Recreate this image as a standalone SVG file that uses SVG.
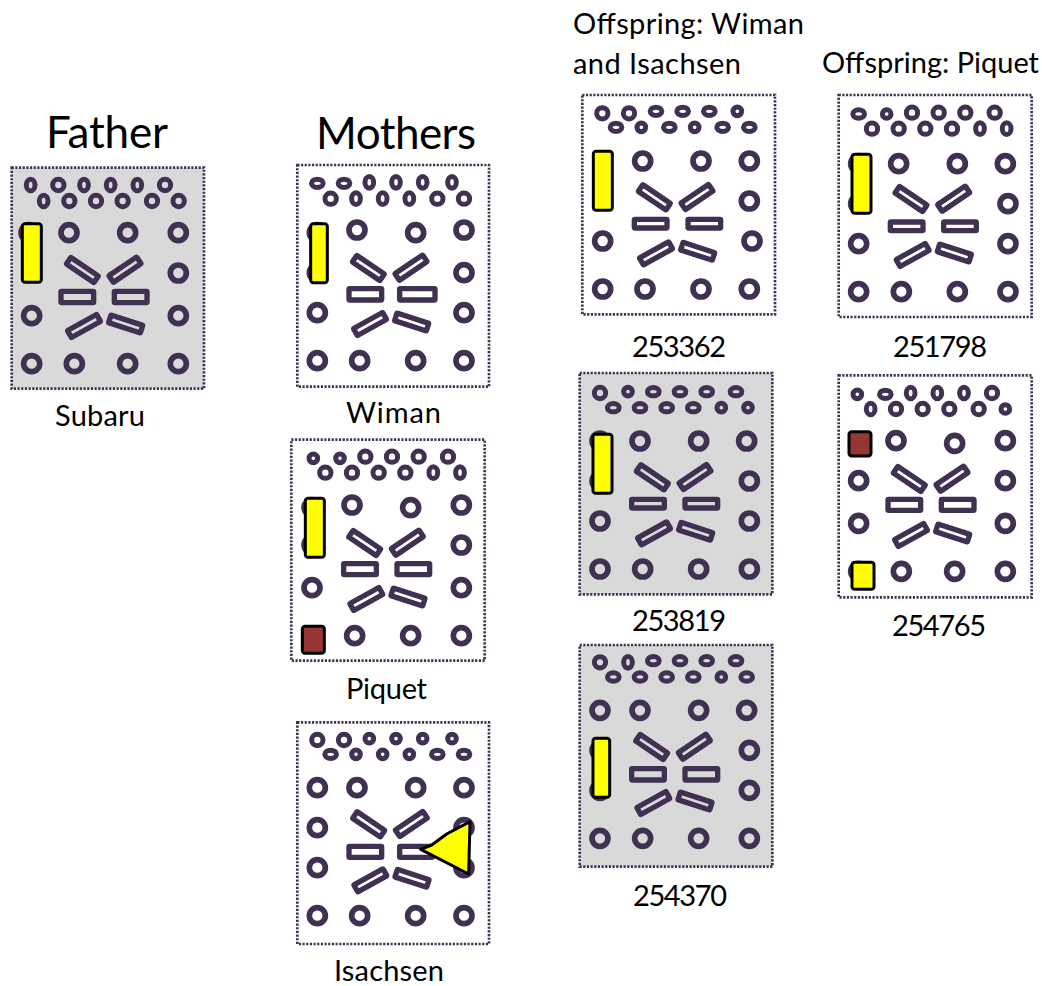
<svg xmlns="http://www.w3.org/2000/svg" xmlns:xlink="http://www.w3.org/1999/xlink" width="1042" height="986" viewBox="0 0 1042 986">
<style>
text{font-family:"Lato","Carlito","Open Sans",sans-serif;fill:#000}
.t{font-size:44px}.l{font-size:29px}
.f{fill:#fff;stroke:#403152;stroke-width:8;stroke-dasharray:6.5 4.5}
.g{fill:#d9d9d9}
.p{fill:none;stroke:#403152}
.h{fill:none;stroke:#403152;stroke-width:16;stroke-linejoin:round}
.y,.m{stroke:#000;stroke-width:9;stroke-linejoin:round}
.y{fill:#ff0}.m{fill:#953735}
</style>
<defs>
<circle id="B" class="p" r="24" stroke-width="17"/>
<circle id="R" class="p" r="17" stroke-width="15"/>
<circle id="r" class="p" r="13" stroke-width="15"/>
<ellipse id="T" class="p" rx="13" ry="17.5" stroke-width="15"/>
<ellipse id="W" class="p" rx="17.5" ry="12.5" stroke-width="15"/>
<g id="D">
<rect class="h" x="-50" y="-12" width="100" height="24" rx="2" transform="translate(247 510) rotate(34)"/>
<rect class="h" x="-50" y="-12" width="100" height="24" rx="2" transform="translate(375 509) rotate(-34)"/>
<rect class="h" x="-50" y="-12" width="100" height="24" rx="2" transform="translate(252 678) rotate(-29)"/>
<rect class="h" x="-50" y="-12" width="100" height="24" rx="2" transform="translate(377 672) rotate(18)"/>
</g>
</defs>
<text class="t" x="46" y="148" textLength="122">Father</text>
<text class="t" x="316" y="149" textLength="160">Mothers</text>
<text class="l" x="573" y="34" textLength="231">Offspring: Wiman</text>
<text class="l" x="573" y="74" textLength="168">and Isachsen</text>
<text class="l" x="822" y="73" textLength="217">Offspring: Piquet</text>

<g id="subaru"><g transform="translate(0 100) scale(.33333)">
<rect class="f g" x="35" y="203" width="577" height="663"/>
<use href="#T" x="92" y="255"/><use href="#R" x="175" y="255"/><use href="#T" x="252" y="255"/><use href="#T" x="332" y="255"/><use href="#T" x="412" y="255"/><use href="#R" x="495" y="255"/>
<use href="#T" x="131" y="303"/><use href="#R" x="208" y="303"/><use href="#R" x="288" y="303"/><use href="#R" x="368" y="303"/><use href="#R" x="456" y="303"/><use href="#R" x="536" y="303"/>
<use href="#B" x="87" y="398"/><use href="#B" x="207" y="398"/><use href="#B" x="383" y="398"/><use href="#B" x="535" y="398"/><use href="#B" x="535" y="519"/><use href="#B" x="95" y="647"/><use href="#B" x="535" y="647"/><use href="#B" x="95" y="791"/><use href="#B" x="223" y="791"/><use href="#B" x="383" y="791"/><use href="#B" x="535" y="791"/>
<use href="#D"/>
<rect class="h" x="183" y="574" width="98" height="34" rx="2"/><rect class="h" x="343" y="574" width="98" height="34" rx="2"/>
<rect class="y" x="67" y="371" width="57" height="176" rx="8"/>
</g><text class="l" x="55" y="426" textLength="90">Subaru</text></g>

<g id="wiman"><g transform="translate(285 150) scale(.33333)">
<rect class="f" x="37" y="45" width="575" height="665"/>
<use href="#W" x="97" y="100"/><use href="#W" x="177" y="100"/><use href="#T" x="253" y="97"/><use href="#T" x="333" y="97"/><use href="#T" x="413" y="97"/><use href="#T" x="501" y="97"/>
<use href="#R" x="137" y="146"/><use href="#T" x="213" y="146"/><use href="#T" x="293" y="146"/><use href="#T" x="373" y="146"/><use href="#R" x="457" y="146"/><use href="#R" x="537" y="146"/>
<use href="#B" x="97" y="248"/><use href="#B" x="97" y="368"/><use href="#B" x="216" y="240"/><use href="#B" x="392" y="248"/><use href="#B" x="537" y="240"/><use href="#B" x="537" y="368"/><use href="#B" x="97" y="488"/><use href="#B" x="537" y="488"/><use href="#B" x="97" y="632"/><use href="#B" x="224" y="632"/><use href="#B" x="392" y="632"/><use href="#B" x="537" y="632"/>
<use href="#D" x="3" y="-156"/>
<rect class="h" x="192" y="416" width="98" height="34" rx="2"/><rect class="h" x="344" y="416" width="106" height="34" rx="2"/>
<rect class="y" x="77" y="221" width="50" height="177" rx="8"/>
</g><text class="l" x="346" y="423" textLength="95">Wiman</text></g>

<g id="piquet"><g transform="translate(285 430) scale(.33333)">
<rect class="f" x="19" y="29" width="580" height="663"/>
<use href="#r" x="85" y="85"/><use href="#r" x="165" y="85"/><use href="#R" x="241" y="80"/><use href="#R" x="321" y="80"/><use href="#R" x="401" y="80"/><use href="#R" x="489" y="80"/>
<use href="#R" x="121" y="128"/><use href="#R" x="201" y="128"/><use href="#R" x="281" y="128"/><use href="#R" x="361" y="128"/><use href="#T" x="445" y="128"/><use href="#T" x="525" y="128"/>
<use href="#B" x="81" y="233"/><use href="#B" x="81" y="345"/><use href="#B" x="201" y="225"/><use href="#B" x="377" y="233"/><use href="#B" x="529" y="225"/><use href="#B" x="529" y="345"/><use href="#B" x="81" y="473"/><use href="#B" x="529" y="473"/><use href="#B" x="209" y="617"/><use href="#B" x="377" y="617"/><use href="#B" x="529" y="617"/>
<use href="#D" x="-8" y="-171"/>
<rect class="h" x="176" y="401" width="98" height="33" rx="2"/><rect class="h" x="336" y="401" width="98" height="33" rx="2"/>
<rect class="y" x="61" y="205" width="57" height="177" rx="8"/>
<rect class="m" x="52" y="589" width="66" height="81" rx="8"/>
</g><text class="l" x="346" y="699" textLength="81">Piquet</text></g>

<g id="isachsen"><g transform="translate(285 710) scale(.33333)">
<rect class="f" x="37" y="37" width="575" height="665"/>
<use href="#R" x="97" y="90"/><use href="#R" x="177" y="90"/><use href="#r" x="253" y="86"/><use href="#r" x="333" y="86"/><use href="#r" x="413" y="86"/><use href="#r" x="501" y="86"/>
<use href="#W" x="137" y="133"/><use href="#r" x="213" y="133"/><use href="#r" x="293" y="133"/><use href="#r" x="373" y="133"/><use href="#W" x="457" y="133"/><use href="#W" x="537" y="133"/>
<use href="#B" x="97" y="233"/><use href="#B" x="216" y="233"/><use href="#B" x="392" y="233"/><use href="#B" x="537" y="233"/><use href="#B" x="97" y="353"/><use href="#B" x="537" y="353"/><use href="#B" x="97" y="473"/><use href="#B" x="537" y="473"/><use href="#B" x="97" y="617"/><use href="#B" x="224" y="617"/><use href="#B" x="392" y="617"/><use href="#B" x="537" y="617"/>
<use href="#D" x="4" y="-167"/>
<rect class="h" x="192" y="409" width="98" height="33" rx="2"/><rect class="h" x="344" y="409" width="98" height="33" rx="2"/>
<polygon class="y" points="407,418 440,405 485,372 555,335 551,492"/>
</g><text class="l" x="334" y="981" textLength="110">Isachsen</text></g>

<g id="o253362"><g transform="translate(570 0) scale(.33333)">
<rect class="f" x="37" y="285" width="578" height="658"/>
<use href="#R" x="97" y="340"/><use href="#R" x="177" y="340"/><use href="#W" x="258" y="334"/><use href="#W" x="338" y="334"/><use href="#W" x="418" y="334"/><use href="#r" x="502" y="334"/>
<use href="#W" x="138" y="382"/><use href="#r" x="214" y="382"/><use href="#W" x="298" y="382"/><use href="#r" x="374" y="382"/><use href="#W" x="458" y="382"/><use href="#W" x="538" y="382"/>
<use href="#B" x="218" y="483"/><use href="#B" x="393" y="483"/><use href="#B" x="538" y="483"/><use href="#B" x="538" y="603"/><use href="#B" x="98" y="723"/><use href="#B" x="546" y="723"/><use href="#B" x="98" y="867"/><use href="#B" x="225" y="867"/><use href="#B" x="393" y="867"/><use href="#B" x="538" y="867"/>
<use href="#D" x="6" y="82"/>
<rect class="h" x="193" y="658" width="98" height="26" rx="2"/><rect class="h" x="354" y="658" width="98" height="26" rx="2"/>
<rect class="y" x="70" y="454" width="57" height="177" rx="8"/>
</g><text class="l" x="632" y="357" textLength="94">253362</text></g>

<g id="o253819"><g transform="translate(570 360) scale(.33333)">
<rect class="f g" x="29" y="39" width="578" height="664"/>
<use href="#R" x="90" y="99"/><use href="#r" x="174" y="95"/><use href="#W" x="250" y="95"/><use href="#W" x="330" y="95"/><use href="#W" x="410" y="95"/><use href="#W" x="498" y="95"/>
<use href="#W" x="130" y="143"/><use href="#W" x="210" y="143"/><use href="#W" x="290" y="143"/><use href="#W" x="370" y="143"/><use href="#r" x="454" y="143"/><use href="#r" x="534" y="143"/>
<use href="#B" x="90" y="243"/><use href="#B" x="90" y="363"/><use href="#B" x="210" y="243"/><use href="#B" x="386" y="243"/><use href="#B" x="530" y="243"/><use href="#B" x="538" y="363"/><use href="#B" x="90" y="483"/><use href="#B" x="538" y="483"/><use href="#B" x="90" y="627"/><use href="#B" x="218" y="627"/><use href="#B" x="386" y="627"/><use href="#B" x="538" y="627"/>
<use href="#D" y="-158"/>
<rect class="h" x="185" y="418" width="98" height="26" rx="2"/><rect class="h" x="345" y="418" width="98" height="26" rx="2"/>
<rect class="y" x="69" y="223" width="57" height="177" rx="8"/>
</g><text class="l" x="632" y="631" textLength="94">253819</text></g>

<g id="o254370"><g transform="translate(570 636) scale(.33333)">
<rect class="f g" x="29" y="27" width="578" height="665"/>
<use href="#R" x="90" y="79"/><use href="#T" x="174" y="79"/><use href="#W" x="250" y="74"/><use href="#W" x="330" y="74"/><use href="#W" x="410" y="74"/><use href="#W" x="498" y="74"/>
<use href="#W" x="130" y="123"/><use href="#W" x="210" y="123"/><use href="#W" x="290" y="123"/><use href="#W" x="370" y="123"/><use href="#r" x="454" y="123"/><use href="#W" x="530" y="123"/>
<use href="#B" x="90" y="343"/><use href="#B" x="90" y="463"/><use href="#B" x="90" y="223"/><use href="#B" x="210" y="223"/><use href="#B" x="386" y="223"/><use href="#B" x="530" y="223"/><use href="#B" x="538" y="343"/><use href="#B" x="538" y="463"/><use href="#B" x="90" y="607"/><use href="#B" x="218" y="607"/><use href="#B" x="386" y="607"/><use href="#B" x="538" y="607"/>
<use href="#D" x="-2" y="-177"/>
<rect class="h" x="185" y="398" width="98" height="34" rx="2"/><rect class="h" x="345" y="398" width="98" height="34" rx="2"/>
<rect class="y" x="69" y="307" width="50" height="177" rx="8"/>
</g><text class="l" x="633" y="906" textLength="94">254370</text></g>

<g id="o251798"><g transform="translate(815 40) scale(.33333)">
<rect class="f" x="71" y="165" width="579" height="666"/>
<use href="#W" x="131" y="222"/><use href="#r" x="215" y="222"/><use href="#R" x="291" y="218"/><use href="#R" x="371" y="218"/><use href="#R" x="451" y="218"/><use href="#R" x="539" y="218"/>
<use href="#R" x="171" y="266"/><use href="#R" x="251" y="266"/><use href="#R" x="331" y="266"/><use href="#R" x="411" y="266"/><use href="#T" x="495" y="266"/><use href="#T" x="575" y="266"/>
<use href="#B" x="131" y="371"/><use href="#B" x="131" y="491"/><use href="#B" x="251" y="371"/><use href="#B" x="427" y="371"/><use href="#B" x="571" y="371"/><use href="#B" x="579" y="491"/><use href="#B" x="131" y="611"/><use href="#B" x="579" y="611"/><use href="#B" x="131" y="755"/><use href="#B" x="259" y="755"/><use href="#B" x="427" y="755"/><use href="#B" x="579" y="755"/>
<use href="#D" x="41" y="-33"/>
<rect class="h" x="226" y="546" width="98" height="26" rx="2"/><rect class="h" x="386" y="546" width="98" height="26" rx="2"/>
<rect class="y" x="111" y="343" width="57" height="177" rx="8"/>
</g><text class="l" x="893" y="357" textLength="94">251798</text></g>

<g id="o254765"><g transform="translate(825 365) scale(.33333)">
<rect class="f" x="41" y="31" width="579" height="666"/>
<use href="#r" x="97" y="88"/><use href="#W" x="181" y="88"/><use href="#T" x="257" y="84"/><use href="#T" x="337" y="84"/><use href="#T" x="417" y="84"/><use href="#R" x="501" y="84"/>
<use href="#T" x="137" y="132"/><use href="#R" x="213" y="132"/><use href="#R" x="293" y="132"/><use href="#R" x="373" y="132"/><use href="#R" x="461" y="132"/><use href="#r" x="541" y="132"/>
<use href="#B" x="101" y="235"/><use href="#B" x="101" y="619"/><use href="#B" x="213" y="227"/><use href="#B" x="389" y="235"/><use href="#B" x="541" y="227"/><use href="#B" x="101" y="347"/><use href="#B" x="541" y="347"/><use href="#B" x="101" y="475"/><use href="#B" x="541" y="475"/><use href="#B" x="229" y="619"/><use href="#B" x="389" y="619"/><use href="#B" x="541" y="619"/>
<use href="#D" x="6" y="-168"/>
<rect class="h" x="189" y="403" width="98" height="33" rx="2"/><rect class="h" x="349" y="403" width="98" height="33" rx="2"/>
<rect class="m" x="72" y="200" width="66" height="73" rx="8"/>
<rect class="y" x="81" y="592" width="66" height="81" rx="8"/>
</g><text class="l" x="892" y="636" textLength="94">254765</text></g>
<g id="connectors"/>
</svg>
